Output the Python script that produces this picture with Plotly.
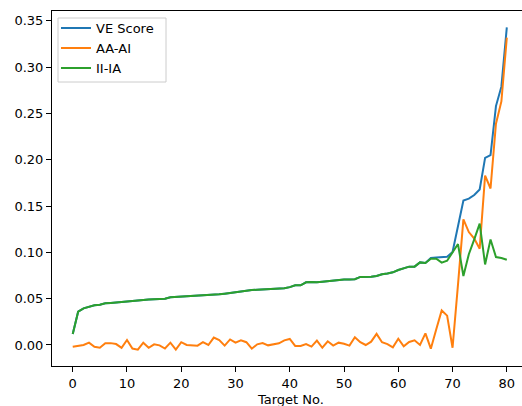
import plotly.graph_objects as go

target_no = list(range(81))

ii_ia = [0.0119, 0.036, 0.0396, 0.0414, 0.0428, 0.0435, 0.045, 0.0454, 0.046, 0.0464,
         0.0468, 0.0472, 0.0479, 0.0486, 0.049, 0.0493, 0.0497, 0.050, 0.0515, 0.0518,
         0.0522, 0.0526, 0.053, 0.0537, 0.054, 0.0542, 0.0544, 0.0547, 0.0554, 0.0562,
         0.0572, 0.0583, 0.059, 0.0594, 0.0596, 0.0598, 0.0601, 0.0605, 0.0608, 0.0612,
         0.0625, 0.0645, 0.0645, 0.0677, 0.068, 0.0677, 0.0684, 0.069, 0.069, 0.0698,
         0.0706, 0.0706, 0.071, 0.0735, 0.0735, 0.0738, 0.0745, 0.0763, 0.0772, 0.0785,
         0.081, 0.0828, 0.0846, 0.0846, 0.0892, 0.0885, 0.0932, 0.0932, 0.0889, 0.091,
         0.0997, 0.109, 0.0745, 0.098, 0.114, 0.131, 0.087, 0.114, 0.095, 0.094,
         0.092]

aa_ai = [-0.002, -0.001, 0.000, 0.0025, -0.002, -0.003, 0.0018, 0.002, 0.001, -0.003,
         0.0054, -0.0038, -0.005, 0.0025, -0.003, 0.0007, -0.0004, -0.0038, 0.0025, -0.005,
         0.003, 0.000, 0.000, -0.0007, 0.003, 0.000, 0.008, 0.0054, -0.0007, 0.006,
         0.0025, 0.005, 0.003, -0.004, 0.0007, 0.002, -0.0004, 0.0004, 0.0018, 0.005,
         0.0065, -0.001, -0.001, 0.001, -0.0018, 0.0047, -0.003, 0.004, -0.0007, 0.0025,
         0.0014, -0.0007, 0.0083, 0.003, 0.000, 0.0036, 0.012, 0.003, 0.001, -0.0025,
         0.0068, -0.0014, 0.0032, 0.005, 0.000, 0.0126, -0.004, 0.017, 0.0373, 0.0317,
         -0.003, 0.065, 0.1357, 0.122, 0.115, 0.104, 0.183, 0.169, 0.239, 0.263,
         0.332]

ve_score = ii_ia[:66] + [0.0940, 0.0945, 0.0948, 0.0952, 0.1005, 0.128, 0.156, 0.158,
                         0.162, 0.168, 0.202, 0.205, 0.258, 0.279, 0.343]

series = [("VE Score", ve_score, "#1f77b4"),
          ("AA-AI", aa_ai, "#ff7f0e"),
          ("II-IA", ii_ia, "#2ca02c")]

fig = go.Figure()
for name, vals, color in series:
    fig.add_trace(go.Scatter(x=target_no, y=vals, mode="lines", name=name,
                             line=dict(color=color, width=2)))

font = dict(family="DejaVu Sans", size=13, color="#000000")
fig.update_layout(
    width=522, height=406,
    margin=dict(l=52, r=0, t=11, b=40, autoexpand=False),
    paper_bgcolor="white", plot_bgcolor="white",
    font=font,
    showlegend=True,
    legend=dict(x=0.0085, y=0.994, xanchor="left", yanchor="top",
                bgcolor="rgba(0,0,0,0)", borderwidth=0,
                font=font, tracegroupgap=0),
    shapes=[dict(type="rect", xref="paper", yref="paper",
                 x0=(58 - 52) / 470, x1=(166 - 52) / 470,
                 y0=(366 - 82) / 355, y1=(366 - 18) / 355,
                 line=dict(color="#cccccc", width=1), fillcolor="white", layer="above")],
    xaxis=dict(range=[-3.82, 82.8], tickmode="array", automargin=False,
               tickvals=[0, 10, 20, 30, 40, 50, 60, 70, 80],
               showgrid=False, zeroline=False, showline=True, mirror=True,
               linecolor="#000000", linewidth=1, ticks="outside", ticklen=5,
               tickcolor="#000000", tickfont=font),
    yaxis=dict(range=[-0.0227, 0.3607], tickmode="array", automargin=False,
               tickvals=[0.0, 0.05, 0.10, 0.15, 0.20, 0.25, 0.30, 0.35],
               ticktext=["0.00", "0.05", "0.10", "0.15", "0.20", "0.25", "0.30", "0.35"],
               showgrid=False, zeroline=False, showline=True, mirror=False,
               linecolor="#000000", linewidth=1, ticks="outside", ticklen=5,
               tickcolor="#000000", tickfont=font),
    annotations=[dict(text="Target No.", xref="paper", yref="paper",
                      x=(290 - 52) / 470, y=(366 - 399) / 355,
                      xanchor="center", yanchor="middle", showarrow=False, font=font)],
)

fig.write_html("out.html", config={"displayModeBar": False},
               post_script="document.body.style.margin='0';document.body.style.overflow='hidden';")
